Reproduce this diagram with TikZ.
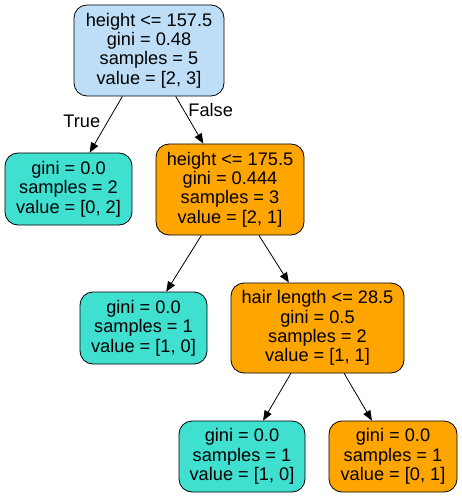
\documentclass[tikz,border=0pt]{standalone}
\usepackage{fontspec}
\setmainfont{Liberation Sans}
\usepackage{tikz}
\usetikzlibrary{shapes,arrows.meta,positioning}
\definecolor{rootblue}{RGB}{189,222,246}
\definecolor{turq}{RGB}{64,224,208}
\definecolor{orng}{RGB}{255,165,0}
\tikzstyle{box} = [rectangle, draw, line width=0.8pt, rounded corners=13pt, align=center, inner sep=0pt]
\tikzstyle{split} = [box, fill=orng, minimum width=148pt, minimum height=91pt]
\tikzstyle{leafa} = [box, fill=turq, minimum width=127pt, minimum height=72pt]
\tikzstyle{leafb} = [box, fill=orng, minimum width=127pt, minimum height=72pt]
\tikzstyle{line} = [draw, line width=0.8pt, -{Triangle[length=10pt,width=8pt]}]

\begin{document}
\begin{tikzpicture}[x=1pt, y=1pt, node distance=139pt, font=\fontsize{18.2}{19.3}\selectfont]
        \useasboundingbox (0,0) rectangle (461,-497);

        \node[split, fill=rootblue, minimum width=150pt] (root) at (149,-50.5)
            {height <= 157.5\\gini = 0.48\\samples = 5\\value = [2, 3]};
        \node[leafa, below of=root, xshift=-80.5pt, yshift=0.5pt]   (lft){gini = 0.0\\samples = 2\\value = [0, 2]};
        \node[split, below of=root, xshift=81pt]   (hgt){height <= 175.5\\gini = 0.444\\samples = 3\\value = [2, 1]};
        \node[leafa, below of=hgt, xshift=-86.5pt, yshift=0.5pt]   (mid){gini = 0.0\\samples = 1\\value = [1, 0]};
        \node[split, below of=hgt, xshift=87.5pt, yshift=0.5pt, minimum width=173pt, minimum height=90pt]   (hair){hair length <= 28.5\\gini = 0.5\\samples = 2\\value = [1, 1]};

        % last row sits a bit closer
        \node[leafa, below of=hair, xshift=-75.5pt, yshift=10.5pt, minimum width=126pt, minimum height=71pt]   (botl){gini = 0.0\\samples = 1\\value = [1, 0]};
        \node[leafb, below of=hair, xshift=75.5pt, yshift=10.5pt, minimum width=128pt, minimum height=71pt]   (botr){gini = 0.0\\samples = 1\\value = [0, 1]};

        \path[line] (root) -- node[pos=0.44, left=4pt]{True} (lft);
        \path[line] (root) -- node[pos=0.29, right=1pt]{False} (hgt);
        \path[line] (hgt) -- (mid);
        \path[line] (hgt) -- (hair);
        \path[line] (hair) -- (botl);
        \path[line] (hair) -- (botr);
      \end{tikzpicture}
\end{document}
